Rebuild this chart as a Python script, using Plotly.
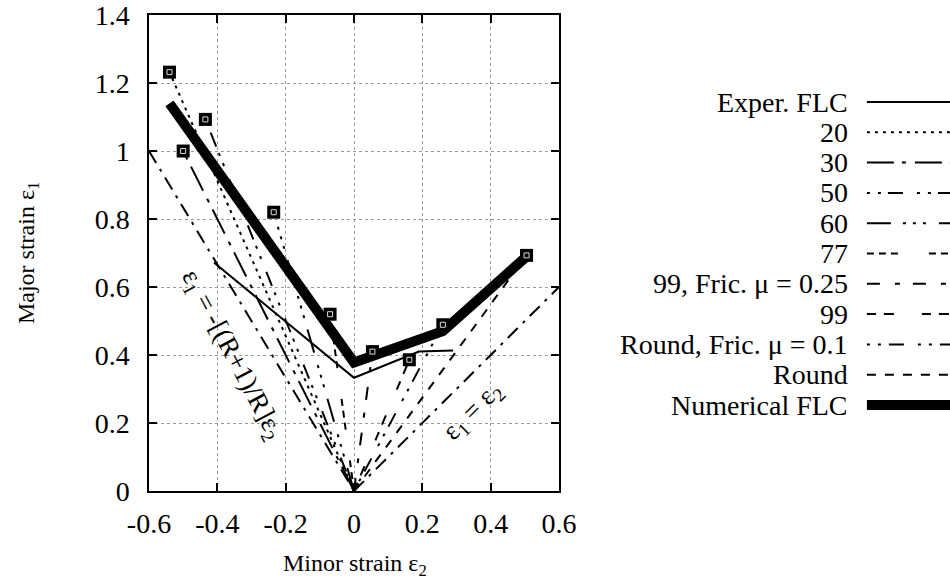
import plotly.graph_objects as go

# ---------------- data ----------------
path_names = ["20", "30", "50", "60", "77", "99, Fric. μ = 0.25", "99",
              "Round, Fric. μ = 0.1", "Round"]
path_end_e2 = [-0.54, -0.50, -0.435, -0.235, -0.07, 0.054, 0.162, 0.26, 0.505]
path_end_e1 = [1.232, 1.00, 1.093, 0.82, 0.52, 0.41, 0.386, 0.489, 0.693]
path_dash = ["3px,5px", "27px,8px,4px,9px", "3px,8px,3px,7px,15px,14px",
             "24px,12px,3px,7px,3px,7px,3px,13px", "7px,5px,7px,5px,7px,31px",
             "13px,15px,5px,13px", "9px,8px,10px,28px",
             "3px,8px,3px,8px,15px,14px", "9px,9px"]

exper_e2 = [-0.41, 0.0, 0.19, 0.29]
exper_e1 = [0.672, 0.333, 0.41, 0.413]

num_e2 = [-0.54, 0.0, 0.26, 0.505]
num_e1 = [1.14, 0.378, 0.47, 0.69]

# reference strain lines
r_line_e2 = [-0.6, 0.0]
r_line_e1 = [1.0, 0.0]
eq_line_e2 = [0.0, 0.6]
eq_line_e1 = [0.0, 0.6]

x_tickvals = [-0.6, -0.4, -0.2, 0, 0.2, 0.4, 0.6]
x_ticktext = ["-0.6", "-0.4", "-0.2", "0", "0.2", "0.4", "0.6"]
y_tickvals = [0, 0.2, 0.4, 0.6, 0.8, 1.0, 1.2, 1.4]
y_ticktext = ["0", "0.2", "0.4", "0.6", "0.8", "1", "1.2", "1.4"]

legend_labels = ["Exper. FLC"] + path_names + ["Numerical FLC"]

FONT = "Liberation Serif"
LW = 2
THICK = 10

fig = go.Figure()

# reference lines
fig.add_trace(go.Scatter(x=r_line_e2, y=r_line_e1, mode="lines",
                         line=dict(color="black", width=LW, dash="14px,7px,3px,7px"),
                         showlegend=False, hoverinfo="skip"))
fig.add_trace(go.Scatter(x=eq_line_e2, y=eq_line_e1, mode="lines",
                         line=dict(color="black", width=LW, dash="14px,7px,3px,7px"),
                         showlegend=False, hoverinfo="skip"))

# strain paths
for name, e2, e1, d in zip(path_names, path_end_e2, path_end_e1, path_dash):
    fig.add_trace(go.Scatter(x=[0, e2], y=[0, e1], mode="lines", name=name,
                             line=dict(color="black", width=LW, dash=d),
                             showlegend=False))

# experimental FLC
fig.add_trace(go.Scatter(x=exper_e2, y=exper_e1, mode="lines", name="Exper. FLC",
                         line=dict(color="black", width=2), showlegend=False))
# numerical FLC
fig.add_trace(go.Scatter(x=num_e2, y=num_e1, mode="lines", name="Numerical FLC",
                         line=dict(color="black", width=THICK), showlegend=False))

# end-point markers
fig.add_trace(go.Scatter(x=path_end_e2, y=path_end_e1, mode="markers",
                         marker=dict(symbol="square", size=13, color="black"),
                         showlegend=False, hoverinfo="skip"))
fig.add_trace(go.Scatter(x=path_end_e2, y=path_end_e1, mode="markers",
                         marker=dict(symbol="square-open", size=5, color="#dddddd",
                                     line=dict(width=1, color="#dddddd")),
                         showlegend=False, hoverinfo="skip"))

axis_common = dict(showline=True, linecolor="black", linewidth=1.5, mirror="allticks",
                   ticks="inside", ticklen=8, tickwidth=1.5, tickcolor="black",
                   showgrid=True, gridcolor="#9a9a9a", griddash="dot", gridwidth=1,
                   zeroline=False, ticklabeloverflow="allow", automargin=False,
                   tickfont=dict(family=FONT, size=28, color="black"))

fig.update_layout(
    width=950, height=582,
    margin=dict(l=149, r=391, t=15, b=91, autoexpand=False),
    plot_bgcolor="white", paper_bgcolor="white",
    font=dict(family=FONT, color="black"),
    xaxis=dict(range=[-0.6, 0.6], tickvals=x_tickvals, ticktext=x_ticktext,
               ticklabelstandoff=7, **axis_common),
    yaxis=dict(range=[0, 1.4001], tickvals=y_tickvals, ticktext=y_ticktext,
               ticklabelstandoff=12, **axis_common),
    showlegend=False,
)

annotations = [
    dict(text="Major strain ε<sub>1</sub>", xref="paper", yref="paper", x=-0.295, y=0.5,
         xanchor="center", yanchor="middle",
         textangle=-90, showarrow=False, font=dict(family=FONT, size=24)),
    dict(text="Minor strain ε<sub>2</sub>", xref="paper", yref="paper", x=0.502, y=-0.155,
         xanchor="center", yanchor="middle",
         showarrow=False, font=dict(family=FONT, size=24)),
    dict(text="ε<sub>1</sub> = -[(R+1)/R]ε<sub>2</sub>", xref="paper", yref="paper",
         x=0.202, y=0.286, xanchor="center", yanchor="middle",
         textangle=62, showarrow=False, font=dict(family=FONT, size=27)),
    dict(text="ε<sub>1</sub> = ε<sub>2</sub>", xref="paper", yref="paper",
         x=0.79, y=0.166, xanchor="center", yanchor="middle",
         textangle=-45, showarrow=False, font=dict(family=FONT, size=27)),
]

# manual legend (text on the left, line sample on the right)
legend_dashes = ["solid"] + path_dash + ["solid"]
legend_widths = [2] + [LW] * len(path_dash) + [THICK]
shapes = []
for i, (lab, d, w) in enumerate(zip(legend_labels, legend_dashes, legend_widths)):
    py = 102 + 30.3 * i
    yp = (491 - py) / 476
    annotations.append(dict(text=lab, xref="paper", yref="paper", x=1.71, y=yp,
                            xanchor="right", yanchor="middle", showarrow=False,
                            font=dict(family=FONT, size=28)))
    shapes.append(dict(type="line", xref="paper", yref="paper", x0=1.751, x1=1.97,
                       y0=yp, y1=yp, line=dict(color="black", width=w, dash=d)))

fig.update_layout(annotations=annotations, shapes=shapes)

fig.write_html("out.html")
